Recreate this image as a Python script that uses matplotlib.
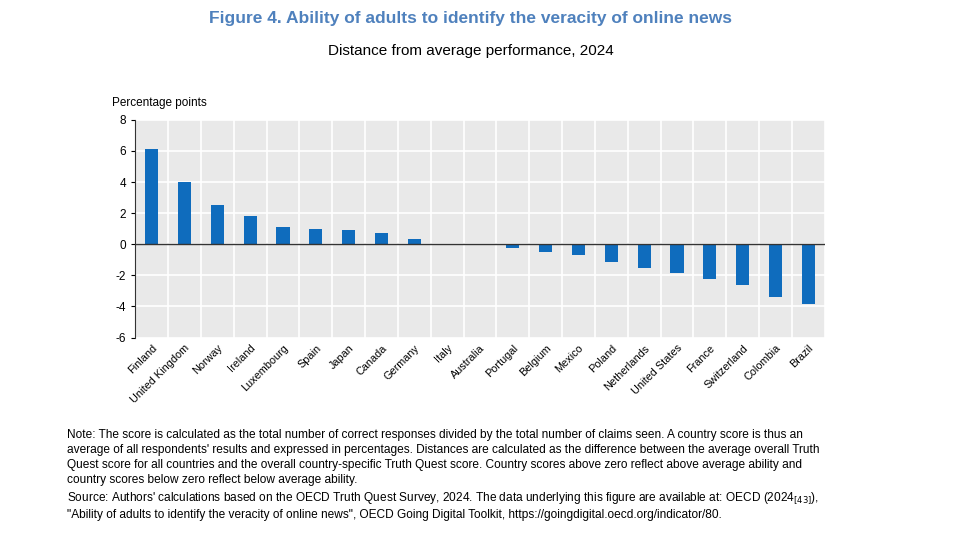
import numpy as np
import matplotlib.pyplot as plt

countries = ['Finland', 'United Kingdom', 'Norway', 'Ireland', 'Luxembourg', 'Spain', 'Japan',
             'Canada', 'Germany', 'Italy', 'Australia', 'Portugal', 'Belgium', 'Mexico', 'Poland',
             'Netherlands', 'United States', 'France', 'Switzerland', 'Colombia', 'Brazil']
values = [6.1, 4.0, 2.5, 1.8, 1.1, 1.0, 0.9, 0.7, 0.35, 0.0, 0.0, -0.25, -0.5, -0.7,
          -1.15, -1.55, -1.85, -2.25, -2.65, -3.4, -3.85]

note = ("Note: The score is calculated as the total number of correct responses divided by the total number of claims seen. A country score is thus an\n"
        "average of all respondents' results and expressed in percentages. Distances are calculated as the difference between the average overall Truth\n"
        "Quest score for all countries and the overall country-specific Truth Quest score. Country scores above zero reflect above average ability and\n"
        "country scores below zero reflect below average ability.\n"
        "Source: Authors' calculations based on the OECD Truth Quest Survey, 2024. The data underlying this figure are available at: OECD (2024$_{[43]}$),\n"
        "\"Ability of adults to identify the veracity of online news\", OECD Going Digital Toolkit, https://goingdigital.oecd.org/indicator/80.")

plt.rcParams['font.family'] = ['Liberation Sans', 'DejaVu Sans']
plt.rcParams['axes.unicode_minus'] = False
fig = plt.figure(figsize=(9.6, 5.4), dpi=100)
ax = fig.add_axes([0.141, 0.375, 0.718, 0.403])
x = np.arange(len(countries))
ax.set_facecolor('#e9e9e9')
ax.bar(x, values, width=0.4, color='#0f6cbd', zorder=3)
ax.axhline(0, color='#333333', lw=1, zorder=4)
ax.set_xlim(-0.5, len(countries) - 0.5)
ax.set_ylim(-6, 8)
ax.set_yticks(range(-6, 9, 2))
for y in range(-6, 9, 2):
    ax.axhline(y, color='white', lw=1.2, zorder=1)
for xi in np.arange(-0.5, len(countries), 1.0):
    ax.axvline(xi, color='white', lw=1.2, zorder=1)
ax.set_xticks(x)
ax.set_xticklabels(countries, rotation=45, ha='right', rotation_mode='anchor', fontsize=7.8)
ax.tick_params(axis='y', labelsize=8.5, length=3)
ax.tick_params(axis='x', length=0, pad=4)
for s in ['top', 'right', 'bottom']:
    ax.spines[s].set_visible(False)
ax.spines['left'].set_color('#333333')

fig.text(0.49, 0.965, 'Figure 4. Ability of adults to identify the veracity of online news',
         ha='center', va='center', fontsize=12.5, fontweight='bold', color='#4f81bd')
fig.text(0.49, 0.905, 'Distance from average performance, 2024', ha='center', va='center', fontsize=11)
fig.text(0.117, 0.81, 'Percentage points', ha='left', va='center', fontsize=8.5)
fig.text(0.07, 0.12, note, ha='left', va='center', fontsize=8.6, linespacing=1.35)
fig.savefig('out.png')
